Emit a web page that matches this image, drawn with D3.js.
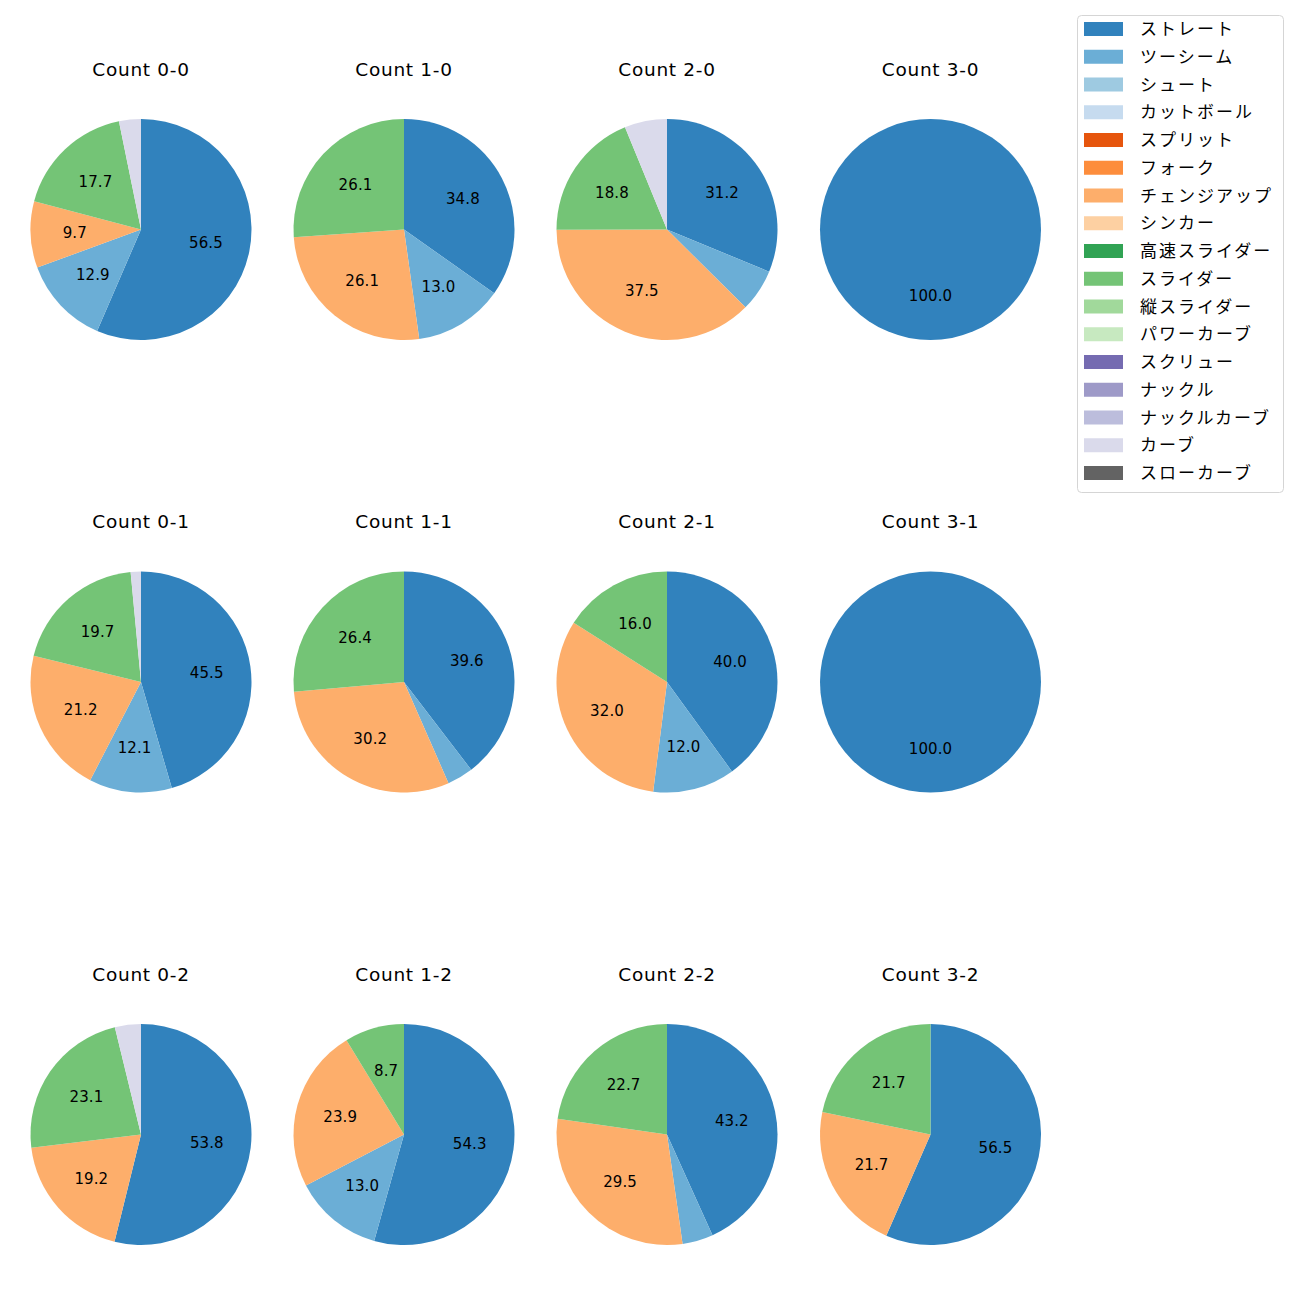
<!DOCTYPE html>
<html>
<head>
<meta charset="utf-8">
<script src="https://cdn.jsdelivr.net/npm/d3@7"></script>
<style>
  html, body { margin: 0; padding: 0; background: #fff; }
  svg { display: block; font-family: "DejaVu Sans", "Noto Sans CJK JP", sans-serif; }
</style>
</head>
<body>
<svg id="chart" width="1300" height="1300"></svg>
<script>
// Pitch types (legend order) and colours (tab20c)
const pitchTypes = ["ストレート","ツーシーム","シュート","カットボール","スプリット","フォーク","チェンジアップ","シンカー","高速スライダー","スライダー","縦スライダー","パワーカーブ","スクリュー","ナックル","ナックルカーブ","カーブ","スローカーブ"];
const pitchColors = ["#3182bd","#6baed6","#9ecae1","#c6dbef","#e6550d","#fd8d3c","#fdae6b","#fdd0a2","#31a354","#74c476","#a1d99b","#c7e9c0","#756bb1","#9e9ac8","#bcbddc","#dadaeb","#636363"];

// Panel titles (row-major: rows = strikes, cols = balls)
const panelTitles = [
  "Count 0-0","Count 1-0","Count 2-0","Count 3-0",
  "Count 0-1","Count 1-1","Count 2-1","Count 3-1",
  "Count 0-2","Count 1-2","Count 2-2","Count 3-2"
];

// Share (%) per pitch type, in pitchTypes order
//                 ストレ ツー  シュ カット スプ フォ チェン シン 高速 スラ 縦  パワ スク ナッ ナカ カーブ スロ
const count00 = [56.5, 12.9, 0, 0, 0, 0, 9.7, 0, 0, 17.7, 0, 0, 0, 0, 0, 3.2, 0];
const count10 = [34.8, 13.0, 0, 0, 0, 0, 26.1, 0, 0, 26.1, 0, 0, 0, 0, 0, 0, 0];
const count20 = [31.2, 6.2, 0, 0, 0, 0, 37.5, 0, 0, 18.8, 0, 0, 0, 0, 0, 6.2, 0];
const count30 = [100.0, 0, 0, 0, 0, 0, 0, 0, 0, 0, 0, 0, 0, 0, 0, 0, 0];
const count01 = [45.5, 12.1, 0, 0, 0, 0, 21.2, 0, 0, 19.7, 0, 0, 0, 0, 0, 1.5, 0];
const count11 = [39.6, 3.8, 0, 0, 0, 0, 30.2, 0, 0, 26.4, 0, 0, 0, 0, 0, 0, 0];
const count21 = [40.0, 12.0, 0, 0, 0, 0, 32.0, 0, 0, 16.0, 0, 0, 0, 0, 0, 0, 0];
const count31 = [100.0, 0, 0, 0, 0, 0, 0, 0, 0, 0, 0, 0, 0, 0, 0, 0, 0];
const count02 = [53.8, 0, 0, 0, 0, 0, 19.2, 0, 0, 23.1, 0, 0, 0, 0, 0, 3.8, 0];
const count12 = [54.3, 13.0, 0, 0, 0, 0, 23.9, 0, 0, 8.7, 0, 0, 0, 0, 0, 0, 0];
const count22 = [43.2, 4.5, 0, 0, 0, 0, 29.5, 0, 0, 22.7, 0, 0, 0, 0, 0, 0, 0];
const count32 = [56.5, 0, 0, 0, 0, 0, 21.7, 0, 0, 21.7, 0, 0, 0, 0, 0, 0, 0];

const panelValues = [count00,count10,count20,count30,count01,count11,count21,count31,count02,count12,count22,count32];

const svg = d3.select("#chart");
const color = d3.scaleOrdinal().domain(pitchTypes).range(pitchColors);

const colCenters = [141, 404, 667, 930.5];
const rowCenters = [229.5, 682, 1134.5];
const radius = 110.5;
const labelThreshold = 7;  // % below which no label is drawn

const pie = d3.pie().sort(null).value(d => d.v).startAngle(0).endAngle(2 * Math.PI);
const arc = d3.arc().innerRadius(0).outerRadius(radius);
const fmt = d3.format(".1f");

panelValues.forEach((vals, i) => {
  const cx = colCenters[i % 4], cy = rowCenters[Math.floor(i / 4)];
  const g = svg.append("g").attr("transform", `translate(${cx},${cy})`);
  const data = vals.map((v, k) => ({ type: pitchTypes[k], v })).filter(d => d.v > 0);
  const arcs = pie(data);

  g.selectAll("path").data(arcs).join("path")
    .attr("d", arc)
    .attr("fill", d => color(d.data.type));

  g.selectAll("text.lbl").data(arcs.filter(d => d.data.v >= labelThreshold)).join("text")
    .attr("class", "lbl")
    .attr("transform", d => {
      const a = (d.startAngle + d.endAngle) / 2;
      const r = radius * 0.6;
      return `translate(${r * Math.sin(a)},${-r * Math.cos(a)})`;
    })
    .attr("text-anchor", "middle")
    .attr("dy", "0.36em")
    .attr("font-size", 15)
    .attr("letter-spacing", 0.1)
    .attr("fill", "#000")
    .text(d => fmt(d.data.v));

  svg.append("text")
    .attr("x", cx).attr("y", cy - 154)
    .attr("text-anchor", "middle")
    .attr("font-size", 18.5)
    .attr("letter-spacing", 0.7)
    .attr("fill", "#000")
    .text(panelTitles[i]);
});

// Legend
const legend = svg.append("g").attr("transform", "translate(1077,15)");
legend.append("rect")
  .attr("x", 0.5).attr("y", 0.5).attr("width", 206).attr("height", 477)
  .attr("rx", 4).attr("fill", "#fff").attr("stroke", "#d5d5d5").attr("stroke-width", 1);
const step = 27.75;
const items = legend.selectAll("g.item").data(pitchTypes).join("g")
  .attr("class", "item")
  .attr("transform", (d, k) => `translate(0,${14 + k * step})`);
items.append("rect")
  .attr("x", 7).attr("y", -7).attr("width", 39).attr("height", 14)
  .attr("fill", d => color(d));
items.append("text")
  .attr("x", 63).attr("dy", "0.36em")
  .attr("font-family", "Noto Sans CJK JP")
  .attr("font-size", 17)
  .attr("letter-spacing", 2.0)
  .attr("fill", "#000")
  .text(d => d);
</script>
</body>
</html>
